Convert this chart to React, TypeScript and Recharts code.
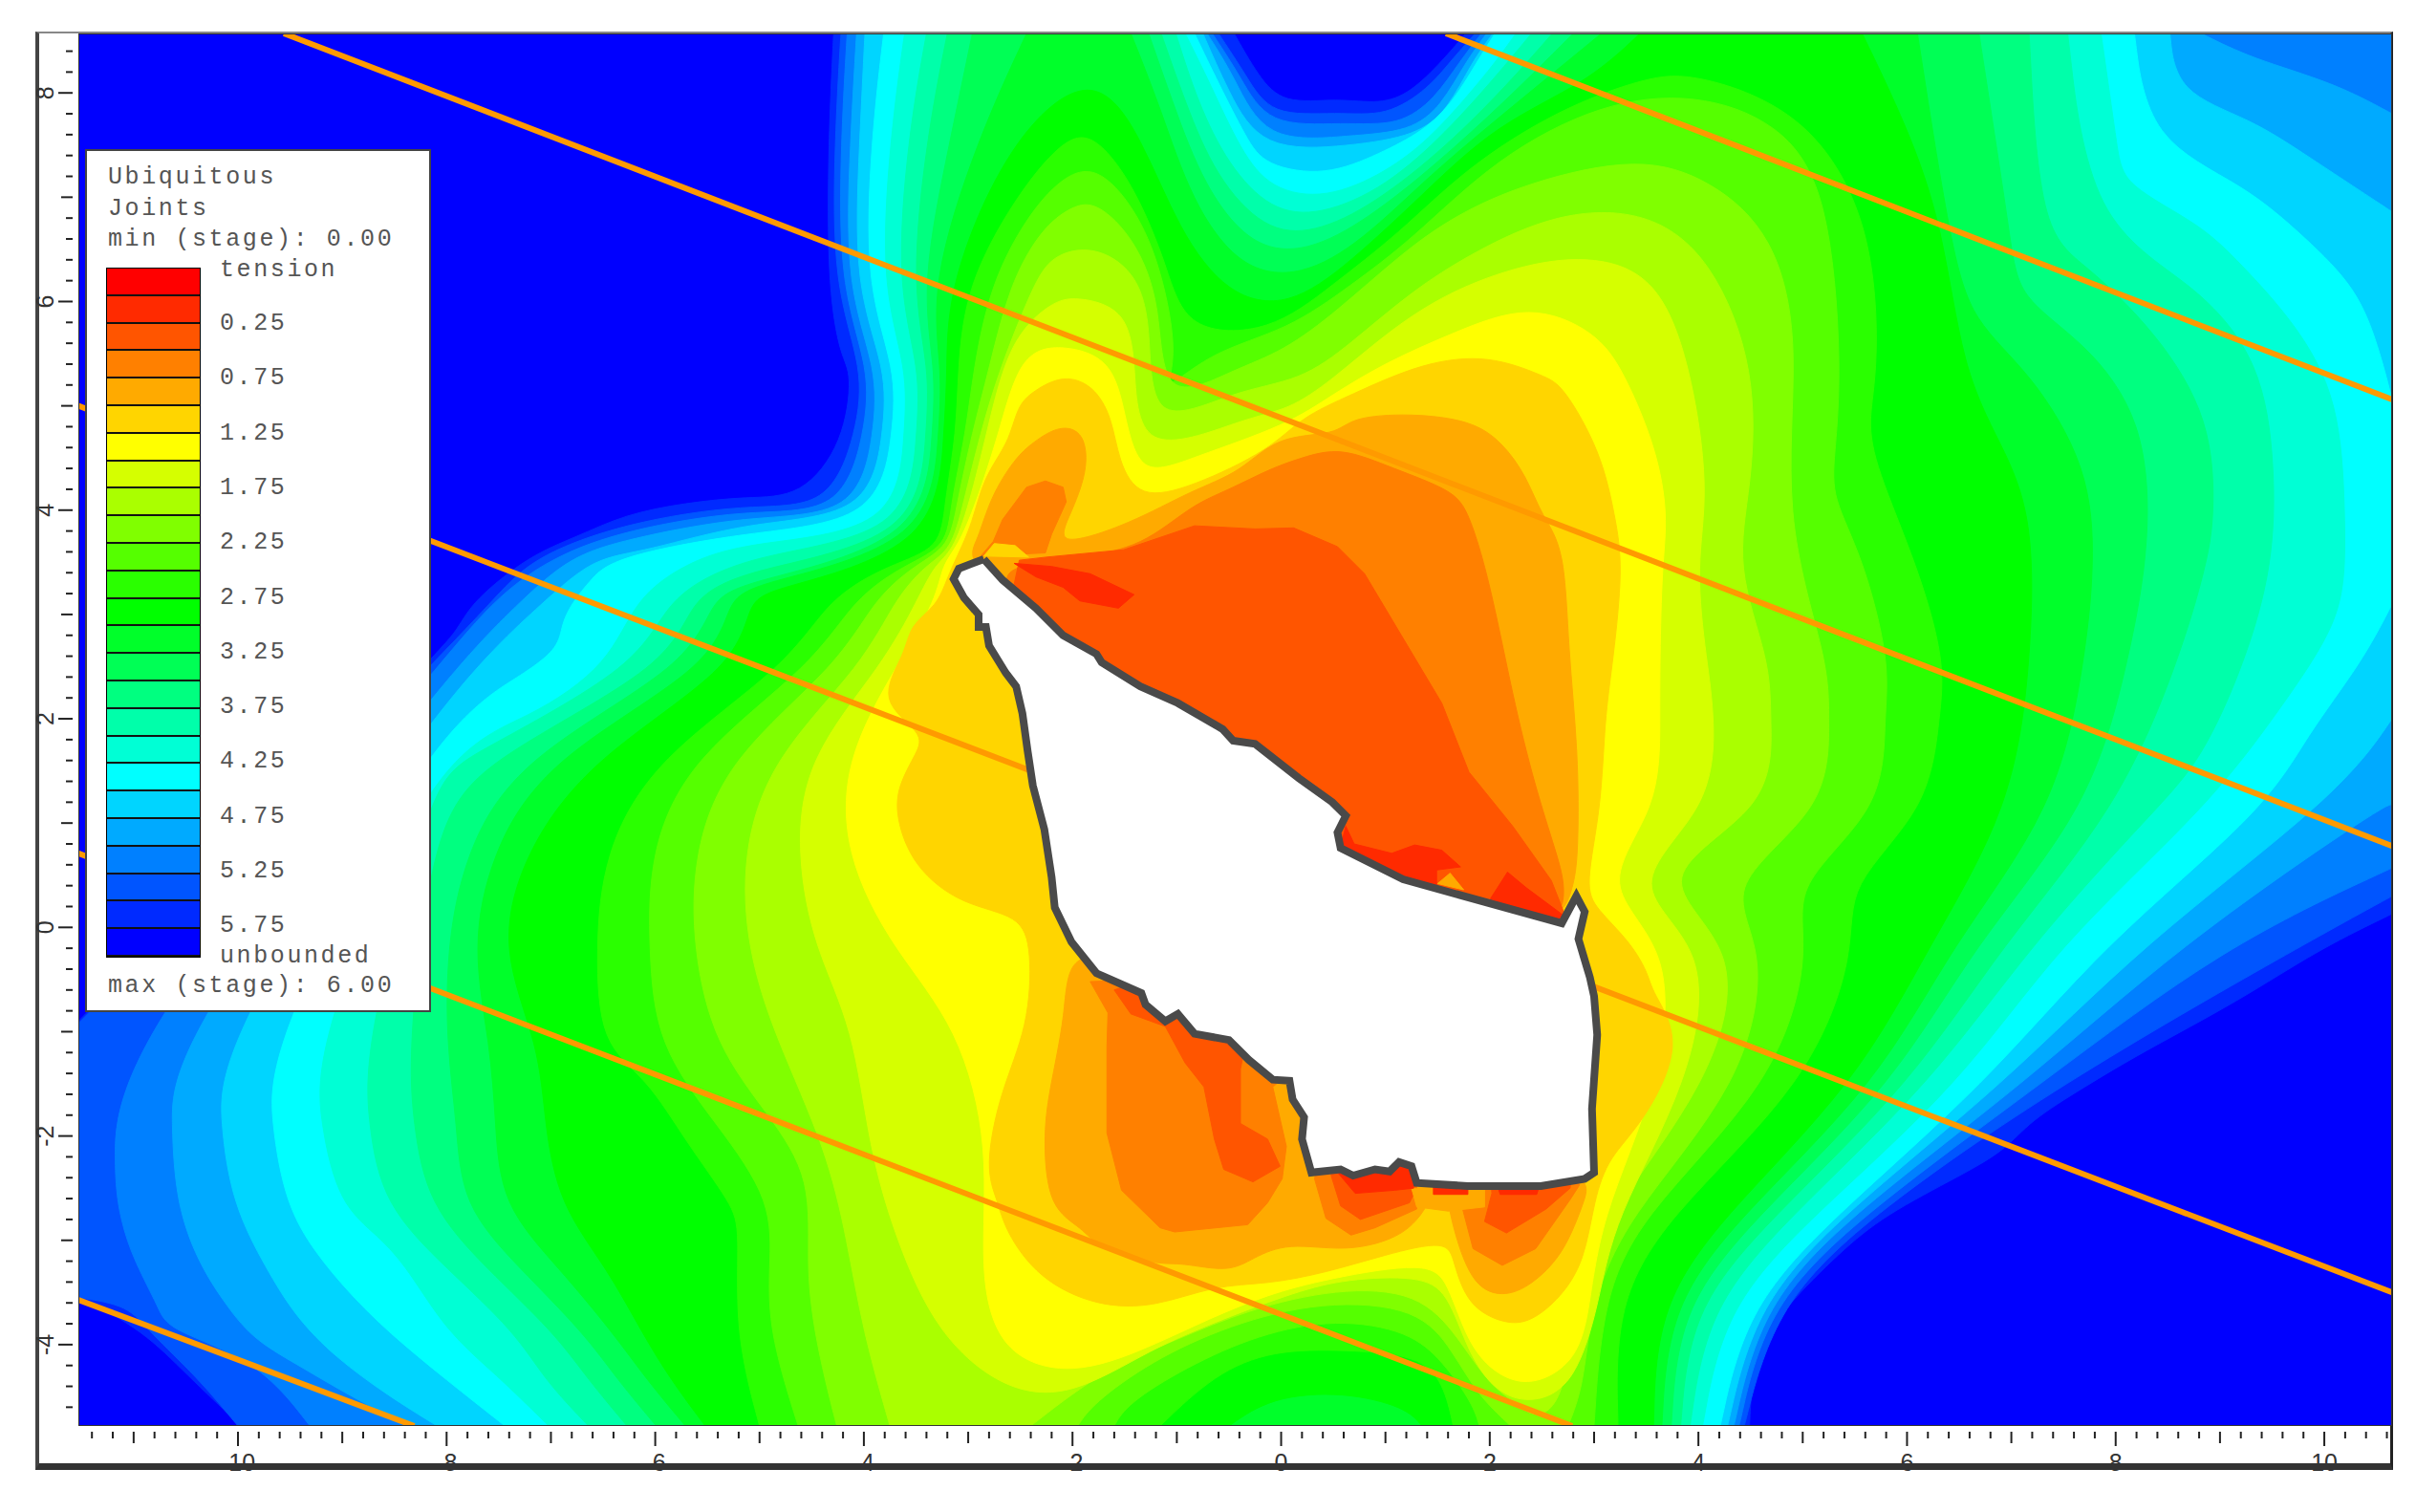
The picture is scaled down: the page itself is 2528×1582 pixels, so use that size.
import React from "react";
import { ScatterChart, Scatter, XAxis, YAxis, Legend } from "recharts";

type Ring = number[][];

// legend, top (tension) to bottom (unbounded)
const legendColors = [
  "#ff0000", "#ff2a00", "#ff5500", "#ff8000", "#ffaa00", "#ffd500", "#ffff00", "#d5ff00", "#aaff00",
  "#80ff00", "#55ff00", "#2aff00", "#00ff00", "#00ff2a", "#00ff55", "#00ff80", "#00ffaa", "#00ffd5",
  "#00ffff", "#00d5ff", "#00aaff", "#0080ff", "#0055ff", "#002aff", "#0000ff",
];
const legendLabels = ["0.25", "0.75", "1.25", "1.75", "2.25", "2.75", "3.25", "3.75", "4.25", "4.75", "5.25", "5.75"];

const xDomain = [-11.53, 10.65];
const yDomain = [-4.78, 8.57];
const xTicks = Array.from({ length: 111 }, (_, i) => Math.round((-11.4 + i * 0.2) * 10) / 10);
const yTicks = Array.from({ length: 66 }, (_, i) => Math.round((-4.6 + i * 0.2) * 10) / 10);

const plotCorners: Ring = [[-11.53, -4.78], [-11.53, 8.57], [10.65, 8.57], [10.65, -4.78], [-11.53, -4.78]];

// filled regions, one per legend step (value <= step)
const band230: Ring = [[-9.97,-4.78],[-10.5,-4.28],[-10.9,-3.87],[-11.53,-3.53],[-11.53,-0.9],[-8.13,2.58],[-7.88,2.87],[-7.76,3.12],[-7.2,3.57],[-6.76,3.74],[-6.29,3.96],[-5.71,4.07],[-5.12,4.13],[-4.6,4.12],[-4.19,4.65],[-4.11,5.33],[-4.22,5.45],[-4.35,6.15],[-4.34,7.56],[-4.29,8.57],[-0.45,8.57],[-0.22,8.16],[0.02,7.89],[0.54,7.95],[0.95,7.89],[1.24,8],[1.54,8.3],[1.77,8.57],[10.65,8.57],[10.65,0.13],[9.93,-0.22],[9.19,-0.7],[8.23,-1.21],[7.7,-1.53],[7.17,-1.86],[6.95,-2.13],[6.53,-2.37],[5.78,-2.76],[5.36,-3.11],[4.83,-3.64],[4.61,-3.99],[4.51,-4.34],[4.49,-4.78]];
const band220: Ring = [[-10,-4.78],[-10.4,-4.3],[-10.85,-3.88],[-11.05,-3.62],[-11.53,-3.55],[-11.53,-0.92],[-8.13,2.52],[-7.5,3.2],[-7.17,3.55],[-6.29,3.88],[-5.12,4.06],[-4.34,4.01],[-4.07,4.75],[-4,5.35],[-4.3,6.15],[-4.28,7.56],[-4.22,8.57],[-0.6,8.57],[-0.33,8.16],[-0.1,7.77],[0.54,7.82],[1.01,7.77],[1.42,8.05],[1.62,8.3],[1.86,8.57],[10.65,8.57],[10.65,0.3],[9.77,-0.18],[7.48,-1.49],[5.57,-2.81],[4.72,-3.68],[4.44,-4.78]];
const band210: Ring = [[-9.31,-4.78],[-9.8,-4.15],[-10.69,-3.85],[-10.75,-3.66],[-10.99,-3.21],[-11.13,-2.81],[-11.2,-2.29],[-11.13,-1.13],[-8.13,2.44],[-7.55,3.15],[-6.99,3.55],[-6.29,3.81],[-5.12,4.01],[-4.22,3.96],[-3.99,4.75],[-3.94,5.35],[-4.24,6.15],[-4.22,7.56],[-4.16,8.57],[-0.66,8.57],[-0.39,8.16],[-0.13,7.67],[0.6,7.72],[1.13,7.68],[1.48,7.95],[1.71,8.3],[1.92,8.57],[10.65,8.57],[10.65,0.57],[9.03,-0.18],[7.3,-1.49],[5.49,-2.81],[4.64,-3.68],[4.39,-4.78]];
const band200: Ring = [[-8.37,-4.78],[-8.93,-4.49],[-9.45,-4.18],[-9.87,-3.94],[-10.15,-3.57],[-10.38,-3.21],[-10.59,-2.66],[-10.64,-1.89],[-10.62,-1.13],[-8.13,2.29],[-7.27,3.15],[-6.82,3.55],[-6.29,3.72],[-5.12,3.95],[-4.07,3.94],[-3.9,4.75],[-3.87,5.35],[-4.18,6.15],[-4.13,7.56],[-4.07,8.57],[-0.71,8.57],[-0.45,8.16],[-0.16,7.52],[0.66,7.59],[1.24,7.63],[1.54,7.88],[1.77,8.3],[1.97,8.57],[8.82,8.57],[9.3,8.33],[10.09,8.1],[10.65,7.8],[10.65,1.18],[10.52,1.14],[8.6,-0.18],[7.14,-1.49],[5.38,-2.81],[4.59,-3.68],[4.34,-4.78]];
const band190: Ring = [[-8.09,-4.78],[-8.56,-4.49],[-9.07,-4.12],[-9.45,-3.73],[-9.73,-3.27],[-10.05,-2.66],[-10.17,-1.89],[-10.17,-1.13],[-8.13,2.14],[-7.04,3.15],[-6.58,3.55],[-6.1,3.6],[-5.12,3.89],[-3.96,3.94],[-3.81,4.75],[-3.78,5.35],[-4.1,6.15],[-4.04,7.56],[-3.99,8.57],[-0.75,8.57],[-0.51,8.02],[-0.19,7.44],[0.66,7.49],[1.3,7.59],[1.6,7.84],[1.83,8.3],[2.03,8.57],[8.52,8.57],[8.58,8],[9.3,7.75],[9.83,7.4],[10.65,6.86],[10.65,2],[10.15,1.28],[8.23,-0.18],[6.95,-1.49],[5.3,-2.81],[4.53,-3.68],[4.28,-4.78]];
const band180: Ring = [[-7.44,-4.78],[-8,-4.34],[-8.56,-3.88],[-8.93,-3.51],[-9.26,-3.12],[-9.54,-2.66],[-9.68,-1.89],[-9.7,-1.13],[-8.13,1.92],[-7.23,2.44],[-6.92,2.69],[-6.9,2.9],[-6.8,3.11],[-6.62,3.33],[-6.41,3.55],[-5.12,3.79],[-3.87,3.89],[-3.72,4.75],[-3.69,5.35],[-3.99,6.15],[-3.93,7.56],[-3.81,8.57],[-0.83,8.57],[-0.6,8.09],[-0.33,7.56],[-0.16,7.3],[0.43,7.2],[0.95,7.42],[1.36,7.63],[1.65,7.91],[1.92,8.37],[2.05,8.57],[8.18,8.57],[8.31,7.54],[9.24,7.12],[9.83,6.6],[10.31,6.13],[10.52,5.57],[10.65,5.06],[10.65,3.1],[10.36,2.54],[9.83,1.84],[9.45,1.14],[7.86,-0.18],[6.77,-1.49],[5.25,-2.81],[4.45,-3.68],[4.21,-4.78]];
const band170: Ring = [[-7.02,-4.78],[-7.53,-4.28],[-8,-3.88],[-8.37,-3.27],[-8.65,-2.96],[-9.03,-2.66],[-9.21,-1.89],[-9.26,-1.13],[-8.13,1.68],[-7.2,2],[-6.43,2.53],[-6.2,3.15],[-5.7,3.5],[-5.12,3.69],[-3.69,3.8],[-3.61,4.75],[-3.58,5.35],[-3.84,6.15],[-3.75,7.56],[-3.61,8.57],[-0.92,8.57],[-0.68,8.09],[-0.39,7.45],[-0.1,7.07],[0.43,6.98],[1.01,7.24],[1.42,7.56],[1.77,7.95],[2.06,8.3],[2.25,8.57],[7.86,8.57],[8.02,7.44],[8.07,7.12],[8.82,6.74],[9.19,6.37],[9.72,5.8],[10.15,5.06],[10.2,3.94],[10.2,3.24],[10.04,2.77],[9.56,2.07],[8.87,1.14],[7.43,-0.18],[6.53,-1.49],[5.04,-2.81],[4.24,-3.68],[4.04,-4.78]];
const band160: Ring = [[-6.64,-4.78],[-7.06,-4.34],[-7.34,-3.88],[-8,-3.27],[-8.61,-2.66],[-8.75,-1.89],[-8.79,-1.13],[-8.13,1.4],[-7.83,1.62],[-6.1,2.53],[-5.92,3.15],[-5.12,3.58],[-3.58,3.75],[-3.49,4.75],[-3.46,5.35],[-3.69,6.15],[-3.58,7.56],[-3.4,8.57],[-1.01,8.57],[-0.8,7.91],[-0.51,7.31],[-0.1,6.87],[0.37,6.82],[1.01,7.1],[1.59,7.63],[2.06,8.16],[2.4,8.57],[7.54,8.57],[7.75,6.74],[8.76,6.18],[9.4,5.43],[9.53,4.41],[9.51,3.47],[9.24,2.54],[8.82,1.6],[8.39,1.14],[7.17,-0.18],[6.24,-1.49],[4.83,-2.81],[4.08,-3.68],[3.92,-4.78]];
const band150: Ring = [[-6.27,-4.78],[-6.64,-4.34],[-6.97,-3.88],[-7.62,-3.27],[-8.18,-2.66],[-8.32,-1.89],[-8.37,-1.13],[-8.13,1],[-7.6,1.62],[-5.82,2.53],[-5.68,3.15],[-5.12,3.43],[-3.49,3.72],[-3.4,4.75],[-3.37,5.35],[-3.55,6.15],[-3.4,7.56],[-3.2,8.57],[-1.15,8.57],[-0.92,7.91],[-0.63,7.2],[-0.16,6.68],[0.31,6.65],[0.89,6.93],[1.59,7.49],[2.18,8.09],[2.6,8.57],[7.17,8.57],[7.27,6.65],[7.7,6.37],[8.39,5.71],[8.92,4.87],[8.95,3.94],[8.87,3.47],[8.6,2.54],[8.02,1.14],[6.9,-0.18],[6.05,-1.49],[4.67,-2.81],[3.92,-3.68],[3.83,-4.78]];
const band140: Ring = [[-5.99,-4.78],[-6.36,-4.34],[-6.69,-3.88],[-7.3,-3.27],[-7.86,-2.66],[-7.9,-1.89],[-8,-1.13],[-8,-0.21],[-7.83,0.7],[-7.32,1.62],[-5.64,2.53],[-5.47,3.15],[-5.12,3.31],[-3.43,3.7],[-3.34,4.75],[-3.31,5.35],[-3.46,6.15],[-3.17,7.56],[-2.96,8.57],[-1.27,8.57],[-1.04,7.91],[-0.74,7.1],[-0.28,6.51],[0.25,6.47],[0.83,6.79],[1.48,7.31],[2.18,7.95],[2.8,8.57],[6.69,8.57],[7,6.56],[7.06,6.04],[7.7,5.62],[8.28,4.87],[8.34,3.7],[8.12,2.54],[7.75,1.14],[6.63,-0.18],[5.89,-1.49],[4.51,-2.81],[3.81,-3.68],[3.74,-4.78]];
const band130: Ring = [[-5.71,-4.78],[-6.08,-4.34],[-6.41,-3.88],[-6.92,-3.27],[-7.48,-2.66],[-7.53,-1.89],[-7.58,-1.13],[-7.76,-0.21],[-7.58,0.7],[-7.04,1.62],[-5.4,2.53],[-5.31,3.15],[-5,3.3],[-3.37,3.68],[-3.28,4.75],[-3.25,5.35],[-3.37,6.15],[-2.91,7.56],[-2.44,8.57],[-1.44,8.57],[-1.15,7.84],[-0.86,6.96],[-0.39,6.3],[0.19,6.23],[0.78,6.58],[1.42,7.21],[2.18,7.84],[3.07,8.57],[6.1,8.57],[6.42,6.51],[6.63,5.8],[7.17,5.34],[7.75,4.41],[7.8,3.47],[7.7,2.54],[7.43,1.14],[6.42,-0.18],[5.73,-1.49],[4.35,-2.81],[3.71,-3.68],[3.65,-4.78]];
const band120: Ring = [[-5.52,-4.78],[-5.85,-4.34],[-6.13,-3.88],[-6.46,-3.27],[-6.92,-2.66],[-7.06,-1.89],[-7.11,-1.13],[-7.5,-0.21],[-7.27,0.7],[-6.62,1.62],[-5.17,2.53],[-5.12,3.15],[-4.8,3.25],[-3.31,3.66],[-3.23,4.75],[-3.2,5.35],[-3.2,6.15],[-2.61,7.56],[-1.8,8.26],[-1.33,7.56],[-0.98,6.68],[-0.51,6.05],[0.07,5.94],[0.66,6.37],[1.36,7.03],[2.06,7.7],[2.94,8.1],[3.44,8.57],[5.57,8.57],[6,7.68],[6.34,6.74],[6.53,5.34],[6.9,4.64],[7.22,3.94],[7.19,2.54],[7,1.14],[6.21,-0.18],[5.52,-1.49],[4.19,-2.81],[3.6,-3.68],[3.57,-4.78],[1.35,-4.78],[1.2,-4.6],[0.6,-4.45],[-0.1,-4.5],[-0.5,-4.78]];
const band110: Ring = [[-5,-4.78],[-5.24,-3.88],[-5.19,-2.9],[-5.26,-2.66],[-5.71,-2.05],[-6.08,-1.44],[-6.53,-1.13],[-6.57,-0.21],[-6.5,0.7],[-6.01,1.62],[-4.7,2.53],[-4.35,3.15],[-3.75,3.48],[-3.26,3.63],[-3.23,4.05],[-3.11,4.75],[-3.1,5.35],[-3.02,6.15],[-2.55,7],[-2.1,7.55],[-1.8,7.63],[-1.4,7.1],[-1.09,6.33],[-0.92,5.7],[-0.1,5.7],[0.48,6.15],[1.13,6.65],[1.77,7.28],[2.65,7.84],[3.52,8.16],[3.97,8.19],[5.04,7.82],[5.68,6.74],[5.73,5.34],[5.62,4.87],[5.7,4.41],[6.1,3.47],[6.37,2.54],[6.31,2.02],[6.21,1.14],[5.41,0.39],[5.52,-0.18],[5.07,-1.49],[3.65,-2.81],[3.2,-3.68],[3.23,-4.78],[1.65,-4.78],[1.56,-4.37],[1.32,-4.1],[0.62,-4.05],[-0.08,-4.05],[-0.64,-4.28],[-1.16,-4.78]];
const band100: Ring = [[-4.63,-4.78],[-4.91,-3.88],[-4.91,-3.27],[-4.87,-2.63],[-5.4,-1.9],[-5.99,-1.13],[-6.06,-0.21],[-6.06,0.7],[-5.68,1.62],[-4.47,2.53],[-4.1,3.15],[-3.6,3.48],[-3.2,3.65],[-3.17,4.05],[-3.02,4.75],[-2.95,5.35],[-2.79,6.15],[-2.45,6.8],[-2.1,7.2],[-1.77,7.31],[-1.4,6.9],[-1.15,6.33],[-0.98,5.45],[-1.15,5.1],[-0.68,5.52],[0.07,5.73],[0.66,6.15],[1.24,6.58],[2.06,7.38],[3.07,7.91],[3.97,8],[4.77,7.72],[5.25,7.07],[5.38,5.34],[5.3,4.5],[5.28,4.12],[5.57,3.57],[5.84,2.54],[5.78,2.02],[5.78,1.14],[4.88,0.39],[5.09,-0.18],[4.75,-1.49],[3.39,-2.81],[3.07,-3.68],[3,-4.78],[1.9,-4.78],[1.84,-4.57],[1.55,-4.16],[1.23,-3.87],[0.53,-3.75],[-0.22,-3.9],[-0.92,-4.22],[-1.48,-4.57],[-1.6,-4.78]];
const band90: Ring = [[-4.26,-4.78],[-4.45,-4.03],[-4.56,-3.27],[-4.49,-2.41],[-4.91,-1.8],[-5.43,-1.13],[-5.64,-0.21],[-5.64,0.7],[-5.31,1.62],[-4.23,2.53],[-3.9,3.15],[-3.5,3.48],[-3.18,3.65],[-3.11,4.05],[-2.96,4.75],[-2.8,5.35],[-2.61,6.15],[-2.3,6.7],[-2,6.92],[-1.77,6.96],[-1.4,6.6],[-1.15,5.98],[-1.15,5],[-0.45,5.35],[0.02,5.52],[0.54,5.91],[1.13,6.44],[1.65,6.82],[2.35,7.14],[3.44,7.4],[4.13,7.16],[4.72,6.65],[4.98,5.62],[4.8,3.94],[5.25,2.54],[5.25,2.02],[5.25,1.14],[4.21,0.39],[4.67,-0.18],[4.45,-1.49],[3.28,-2.81],[2.96,-3.68],[2.9,-4.4],[2.75,-4.78],[2.2,-4.78],[1.88,-4.48],[1.65,-4.07],[1.32,-3.64],[0.39,-3.58],[-0.5,-3.81],[-1.25,-4.16],[-1.81,-4.57],[-1.95,-4.78]];
const band80: Ring = [[-3.75,-4.78],[-4.01,-3.87],[-4.16,-3],[-4.36,-2.12],[-4.85,-1.05],[-5.12,-0.21],[-5.17,0.7],[-4.89,1.62],[-4,2.53],[-3.7,3.15],[-3.4,3.48],[-3.16,3.62],[-3.05,4.05],[-2.88,4.75],[-2.7,5.35],[-2.38,6.15],[-2.2,6.45],[-1.8,6.54],[-1.4,6.3],[-1.24,5.8],[-1.27,4.75],[-0.45,5.15],[0.19,5.24],[0.66,5.59],[1.24,6.09],[1.83,6.47],[2.65,6.86],[3.5,6.88],[4.13,6.42],[4.56,5.34],[4.51,4.22],[4.35,3.47],[4.69,2.54],[4.69,2.02],[4.72,1.14],[3.47,0.48],[4.45,-0.18],[4.13,-1.49],[3.07,-2.81],[2.83,-3.68],[2.7,-4.55],[2.45,-4.72],[2.26,-4.57],[1.98,-4.37],[1.7,-3.93],[1.32,-3.49],[0.53,-3.46],[-0.31,-3.66],[-1.02,-3.96],[-1.72,-4.25],[-2.4,-4.78]];
const band70: Ring = [[-3.3,-3.9],[-3.69,-3],[-3.95,-2.12],[-4.1,-0.95],[-4.47,-0.21],[-4.65,0.7],[-4.56,1.62],[-3.81,2.53],[-3.48,3.15],[-3.32,3.48],[-3.15,3.6],[-2.99,4.05],[-2.82,4.75],[-2.61,5.63],[-2.2,6],[-1.97,6.05],[-1.5,5.94],[-1.39,5.45],[-1.39,4.47],[-0.33,4.89],[0.07,4.96],[0.48,5.24],[1.01,5.7],[1.59,6.09],[2.35,6.37],[3.02,6.44],[3.6,6.23],[3.92,5.43],[4.11,4.17],[3.97,3.47],[4.08,2.54],[4.16,2.02],[4.13,1.14],[3.26,0.39],[4.13,-0.18],[3.92,-1.49],[3.18,-2.81],[3.05,-3.6],[2.82,-4.37],[2.44,-4.57],[2.07,-4.48],[1.79,-4.08],[1.6,-3.49],[1.32,-3.34],[0.62,-3.37],[0.15,-3.49],[-0.55,-3.75],[-1.25,-4.04],[-2,-4.5],[-2.65,-4.45]];
const band60: Ring = [[-2.7,-4.1],[-2.9,-3.3],[-2.79,-2.12],[-3.09,-0.95],[-3.72,-0.21],[-4.19,0.7],[-4.19,1.62],[-3.67,2.53],[-3.3,3.15],[-3.25,3.48],[-3.1,3.65],[-2.93,4.05],[-2.7,4.75],[-2.5,5.52],[-2.09,5.59],[-1.62,5.45],[-1.5,4.93],[-1.36,4.3],[-0.86,4.5],[0.07,4.82],[0.48,5.1],[1.01,5.42],[1.65,5.7],[2.38,5.99],[3.02,5.71],[3.28,5.34],[3.6,4.59],[3.71,3.94],[3.65,3.47],[3.63,2.54],[3.63,2.02],[3.63,1.14],[3.02,0.39],[3.76,-0.18],[3.65,-1.49],[3.04,-2.81],[2.95,-3.8],[2.78,-4.2],[2.4,-4.4],[2.07,-4.3],[1.79,-4],[1.6,-3.4],[1.41,-3.2],[0.43,-3.37],[-0.13,-3.52],[-0.69,-3.75],[-1.25,-4.02],[-2,-4.31]];
const band50: Ring = [[-2.72,-2.61],[-2.84,-2.32],[-2.7,-1.59],[-2.42,-0.95],[-2.39,-0.21],[-2.5,0.12],[-3.06,0.21],[-3.53,0.58],[-3.7,1.07],[-3.67,1.37],[-3.49,1.68],[-3.42,1.86],[-3.88,2.17],[-3.6,2.63],[-3.56,2.9],[-3.3,3.08],[-3.2,3.35],[-3.11,3.55],[-2.96,3.87],[-2.85,4.33],[-2.61,4.64],[-2.53,5],[-2.38,5.14],[-2.09,5.3],[-1.8,5.2],[-1.62,4.89],[-1.56,4.47],[-1.36,4.1],[-0.86,4.22],[-0.1,4.58],[0.19,4.89],[0.66,5.1],[1.36,5.42],[2,5.49],[2.53,5.28],[2.7,5.2],[3.07,4.55],[3.2,3.94],[3.28,3.47],[3.18,2.54],[3.1,2],[3.07,1.14],[2.91,0.39],[3.02,0.18],[3.34,-0.13],[3.52,-0.44],[3.55,-0.61],[3.87,-1.1],[3.47,-1.88],[3.14,-2.2],[3,-2.61],[2.91,-3.2],[2.68,-3.55],[2.4,-3.78],[2.16,-3.81],[1.79,-3.64],[1.65,-3.2],[1.6,-2.99],[0.99,-3.14],[0.43,-3.31],[-0.13,-3.42],[-0.64,-3.43],[-1.2,-3.64],[-1.76,-3.64],[-2.33,-3.37],[-2.65,-2.9]];
const band40Top: Ring = [[-2.12,4.82],[-1.88,4.75],[-1.85,4.37],[-2.03,3.94],[-2.17,3.63],[-1.44,3.87],[-0.86,4.19],[-0.39,4.36],[-0.04,4.72],[0.54,4.72],[0.66,4.89],[1.24,4.93],[1.83,4.86],[2.12,4.65],[2.35,4.33],[2.5,3.94],[2.72,3.65],[2.75,2.67],[2.85,1.69],[2.85,0.7],[2.8,0.35],[2.6,-0.1],[0.5,0.6],[-1,1.7],[-2.6,3.1],[-3.02,3.54],[-2.91,3.7],[-2.79,4.12],[-2.55,4.5],[-2.38,4.65]];
const band40Bottom: Ring = [[-2.06,-0.21],[-2.06,-0.82],[-2.23,-1.59],[-2.28,-2.03],[-2.23,-2.7],[-1.9,-2.88],[-1.76,-3.08],[-1.16,-3.24],[-0.97,-3.21],[-0.5,-3.31],[-0.27,-3.17],[0.06,-3.02],[0.62,-3.11],[1.09,-2.99],[1.3,-2.82],[1.44,-2.61],[1.5,-2.3],[1.6,-2.61],[1.65,-2.9],[1.84,-3.46],[2.16,-3.55],[2.44,-3.4],[2.72,-3.11],[2.91,-2.61],[2.96,-2.44],[2.6,-2.2],[0.6,-2],[-0.5,-0.8],[-1.4,-0.3]];
const band30Finger: Ring = [[-2.26,4.28],[-2.09,4.22],[-2.06,4.08],[-2.2,3.77],[-2.26,3.59],[-2.88,3.56],[-2.76,3.7],[-2.67,3.91],[-2.44,4.22]];
const band30Top: Ring = [[-2.2,3.5],[-1.91,3.55],[-1.33,3.65],[-0.86,4.05],[-0.51,4.19],[-0.1,4.4],[0.19,4.5],[0.57,4.61],[1.07,4.4],[1.65,4.19],[1.8,3.98],[2,3.32],[2.22,2.21],[2.43,1.36],[2.64,0.71],[2.75,0.32],[2.6,-0.1],[0.5,0.6],[-1,1.7],[-2.6,3.1],[-2.7,3.45]];
const band30Left: Ring = [[-1.3,-0.5],[-1.83,-0.52],[-1.66,-0.82],[-1.67,-1.15],[-1.67,-1.97],[-1.53,-2.52],[-1.16,-2.88],[-1.02,-2.92],[-0.32,-2.85],[-0.13,-2.64],[0.01,-2.41],[0.05,-2.1],[-0.08,-1.53],[0.3,-1.2]];
const band30Mid: Ring = [[0.32,-2.41],[0.43,-2.79],[0.67,-2.95],[0.9,-2.88],[1.3,-2.7],[1.27,-2.5],[1.2,-2.1],[0.4,-2.1]];
const band30Right: Ring = [[1.74,-2.7],[1.84,-3.08],[2.12,-3.24],[2.44,-3.08],[2.77,-2.61],[2.86,-2.47],[2.7,-2.2],[1.8,-2.2]];
const band20Top: Ring = [[-2.51,3.52],[-2.25,3.55],[-1.51,3.62],[-0.83,3.85],[-0.25,3.82],[0.12,3.83],[0.54,3.65],[0.8,3.39],[1.17,2.77],[1.54,2.15],[1.8,1.49],[2.22,0.97],[2.59,0.45],[2.72,0.12],[2.6,-0.1],[0.5,0.6],[-1,1.7],[-2.6,3.1]];
const band20Left: Ring = [[-1.3,-0.5],[-1.6,-0.6],[-1.44,-0.83],[-1.11,-0.95],[-0.92,-1.3],[-0.74,-1.53],[-0.64,-2.03],[-0.55,-2.32],[-0.27,-2.44],[-0.01,-2.29],[-0.13,-2.03],[-0.39,-1.88],[-0.39,-1.36],[-0.3,-0.9]];
const band20Mid: Ring = [[0.48,-2.38],[0.57,-2.67],[0.76,-2.8],[1.23,-2.64],[1.3,-2.5],[1.2,-2.1],[0.5,-2.1]];
const band20Right: Ring = [[2.02,-2.55],[1.95,-2.82],[2.16,-2.93],[2.54,-2.7],[2.77,-2.5],[2.8,-2.2],[2,-2.2]];
const band10Tip: Ring = [[-2.56,3.49],[-2.2,3.46],[-1.83,3.39],[-1.41,3.19],[-1.56,3.06],[-1.93,3.13],[-2.09,3.26],[-2.35,3.36]];
const band10Wall: Ring = [[0.62,0.97],[0.7,0.8],[1.06,0.71],[1.28,0.79],[1.54,0.74],[1.72,0.58],[1.49,0.55],[1.49,0.3],[1.17,0.3],[0.55,0.7]];
const band10Corner: Ring = [[2.01,0.28],[2.17,0.53],[2.35,0.38],[2.7,0.12],[2.64,-0.1],[2,0.1]];
const band10Floor: Ring = [[0.5,-2.3],[0.71,-2.55],[1.09,-2.52],[1.27,-2.5],[1.23,-2.2]];
const band10Floor2: Ring = [[1.46,-2.4],[1.46,-2.56],[1.79,-2.56],[1.79,-2.4]];
const band10Floor3: Ring = [[2.05,-2.4],[2.1,-2.56],[2.45,-2.56],[2.5,-2.4]];
const patchTipAmber: Ring = [[-2.85,3.56],[-2.75,3.68],[-2.55,3.66],[-2.42,3.55]];
const patchWallYellow: Ring = [[1.18,0.5],[1.25,0.62],[1.32,0.5]];
const patchWallAmber: Ring = [[1.5,0.42],[1.62,0.52],[1.75,0.36]];
const patchFloorAmber: Ring = [[1.25,-2.5],[1.95,-2.5],[1.95,-2.68],[1.6,-2.72],[1.3,-2.68]];

const excavation: Ring = [[-2.85,3.53],[-3.09,3.44],[-3.14,3.34],[-3.04,3.16],[-2.9,3],[-2.9,2.88],[-2.83,2.88],[-2.8,2.7],[-2.64,2.44],[-2.54,2.31],[-2.48,2.05],[-2.43,1.69],[-2.38,1.36],[-2.27,0.94],[-2.2,0.48],[-2.17,0.19],[-2.01,-0.14],[-1.77,-0.44],[-1.34,-0.63],[-1.3,-0.74],[-1.11,-0.9],[-0.99,-0.83],[-0.83,-1.02],[-0.5,-1.08],[-0.31,-1.27],[-0.08,-1.46],[0.08,-1.47],[0.11,-1.65],[0.22,-1.82],[0.2,-2.03],[0.29,-2.35],[0.57,-2.32],[0.69,-2.38],[0.9,-2.32],[1.04,-2.34],[1.13,-2.25],[1.25,-2.29],[1.3,-2.45],[1.79,-2.48],[2.49,-2.48],[2.91,-2.41],[3,-2.35],[2.98,-1.74],[3.03,-1.03],[3,-0.66],[2.96,-0.48],[2.85,-0.11],[2.91,0.15],[2.83,0.3],[2.69,0.04],[1.17,0.46],[0.57,0.76],[0.54,0.91],[0.62,1.07],[0.49,1.2],[0.17,1.43],[-0.25,1.76],[-0.46,1.79],[-0.56,1.9],[-0.99,2.15],[-1.35,2.31],[-1.72,2.54],[-1.77,2.62],[-2.09,2.8],[-2.35,3.06],[-2.67,3.33],[-2.85,3.53]];

const bolts: Ring[] = [
  [[-9.56, 8.57], [10.65, 0.78]],
  [[-11.53, 5], [10.65, -3.5]],
  [[-11.53, 0.71], [2.79, -4.78]],
  [[-11.53, -3.57], [-8.31, -4.78]],
  [[1.58, 8.57], [10.65, 5.06]],
];

// [legend row, rings], painted in this order
const layers: [number, Ring[]][] = [
  [23, [band230]], [22, [band220]], [21, [band210]], [20, [band200]], [19, [band190]], [18, [band180]],
  [17, [band170]], [16, [band160]], [15, [band150]], [14, [band140]], [13, [band130]], [12, [band120]],
  [11, [band110]], [10, [band100]], [9, [band90]], [8, [band80]], [7, [band70]], [6, [band60]], [5, [band50]],
  [4, [band40Top, band40Bottom]], [3, [band30Finger, band30Top, band30Left, band30Mid, band30Right]],
  [2, [band20Top, band20Left, band20Mid, band20Right]],
  [5, [patchTipAmber]], [6, [patchWallYellow]], [4, [patchWallAmber, patchFloorAmber]],
  [1, [band10Tip, band10Wall, band10Corner, band10Floor, band10Floor2, band10Floor3]],
];

const toPoints = (ring: Ring) => ring.map(([x, y]) => ({ x, y }));
// basis curves only reach a point repeated three times, so points on the plot edge are repeated
const onEdge = ([x, y]: number[]) => x === xDomain[0] || x === xDomain[1] || y === yDomain[0] || y === yDomain[1];
const toCurvePoints = (ring: Ring) => toPoints(ring.flatMap((p) => (onEdge(p) ? [p, p, p] : [p])));
const NoPoint = () => null;

const XTick = ({ x, y, payload }: any) => {
  const v = payload.value;
  const even = v % 2 === 0;
  const len = even ? 15 : Number.isInteger(v) ? 12 : 7;
  return (
    <g>
      <line x1={x} x2={x} y1={y} y2={y + len} stroke="#222" strokeWidth={2} />
      {even && (
        <text x={x} y={y + 41} textAnchor="middle" fontFamily="Liberation Sans" fontSize={25} fill="#333">
          {v}
        </text>
      )}
    </g>
  );
};

const YTick = ({ x, y, payload }: any) => {
  const v = payload.value;
  const even = v % 2 === 0;
  const len = even ? 15 : Number.isInteger(v) ? 12 : 7;
  return (
    <g>
      <line x1={x} x2={x - len} y1={y} y2={y} stroke="#222" strokeWidth={2} />
      {even && (
        <text
          x={x - 20}
          y={y}
          textAnchor="middle"
          transform={`rotate(-90 ${x - 20} ${y})`}
          fontFamily="Liberation Sans"
          fontSize={25}
          fill="#333"
        >
          {v}
        </text>
      )}
    </g>
  );
};

const monoText: React.CSSProperties = {
  position: "absolute",
  fontFamily: "Liberation Mono",
  fontSize: 25,
  letterSpacing: 2.6,
  lineHeight: "30px",
  color: "#555",
  whiteSpace: "pre",
};

const LegendBox = () => (
  <div style={{ position: "relative", width: 362, height: 903, background: "#fff", border: "2px solid #444", boxSizing: "border-box" }}>
    <div style={{ ...monoText, left: 22, top: 13 }}>Ubiquitous</div>
    <div style={{ ...monoText, left: 22, top: 46 }}>Joints</div>
    <div style={{ ...monoText, left: 22, top: 78 }}>min (stage): 0.00</div>
    <div style={{ position: "absolute", left: 20, top: 122, width: 97, border: "1px solid #000" }}>
      {legendColors.map((c) => (
        <div key={c} style={{ height: 26.8, background: c, borderBottom: "2px solid #111" }} />
      ))}
    </div>
    <div style={{ ...monoText, left: 139, top: 110 }}>tension</div>
    {legendLabels.map((t, i) => (
      <div key={t} style={{ ...monoText, left: 139, top: 166 + i * 57.3 }}>{t}</div>
    ))}
    <div style={{ ...monoText, left: 139, top: 828 }}>unbounded</div>
    <div style={{ ...monoText, left: 22, top: 859 }}>max (stage): 6.00</div>
  </div>
);

export default function App() {
  return (
    <div style={{ position: "absolute", left: 0, top: 0, width: 2528, height: 1582, background: "#fff" }}>
      <div style={{ position: "absolute", left: 37, top: 33, width: 2467, height: 1505, borderLeft: "4px solid #444", borderTop: "2px solid #888", borderRight: "3px solid #222", borderBottom: "7px solid #333", boxSizing: "border-box" }} />
      <ScatterChart width={2528} height={1582} margin={{ top: 35, right: 25, bottom: 0, left: 0 }}>
        <XAxis type="number" dataKey="x" domain={xDomain} ticks={xTicks} interval={0} height={90} axisLine={false} tickLine={false} tickMargin={0} tick={XTick} allowDataOverflow />
        <YAxis type="number" dataKey="y" domain={yDomain} ticks={yTicks} interval={0} width={82} axisLine={false} tickLine={false} tickMargin={0} tick={YTick} allowDataOverflow />
        <Scatter data={toPoints(plotCorners)} line={{ fill: legendColors[24], stroke: "none" }} shape={NoPoint} isAnimationActive={false} />
        {layers.flatMap(([row, rings], i) =>
          rings.map((ring, j) => {
            const smooth = ring.length >= 20;
            return (
              <Scatter
                key={`${i}-${j}`}
                data={smooth ? toCurvePoints(ring) : toPoints(ring)}
                line={{ fill: legendColors[row], stroke: legendColors[row], strokeWidth: 1 }}
                lineJointType={smooth ? "basisClosed" : "linearClosed"}
                shape={NoPoint}
                isAnimationActive={false}
              />
            );
          })
        )}
        {bolts.map((b, i) => (
          <Scatter key={`bolt${i}`} data={toPoints(b)} line={{ stroke: "#ff9a00", strokeWidth: 6 }} shape={NoPoint} isAnimationActive={false} />
        ))}
        <Scatter data={toPoints(excavation)} line={{ fill: "#ffffff", stroke: "#4a4a4a", strokeWidth: 8 }} shape={NoPoint} isAnimationActive={false} />
        <Scatter data={toPoints(plotCorners)} line={{ stroke: "#333", strokeWidth: 2 }} shape={NoPoint} isAnimationActive={false} />
        <Legend
          layout="vertical"
          align="center"
          verticalAlign="middle"
          content={LegendBox}
          wrapperStyle={{ position: "absolute", left: 89, top: 156, width: 362, height: 903, margin: 0 }}
        />
      </ScatterChart>
    </div>
  );
}
